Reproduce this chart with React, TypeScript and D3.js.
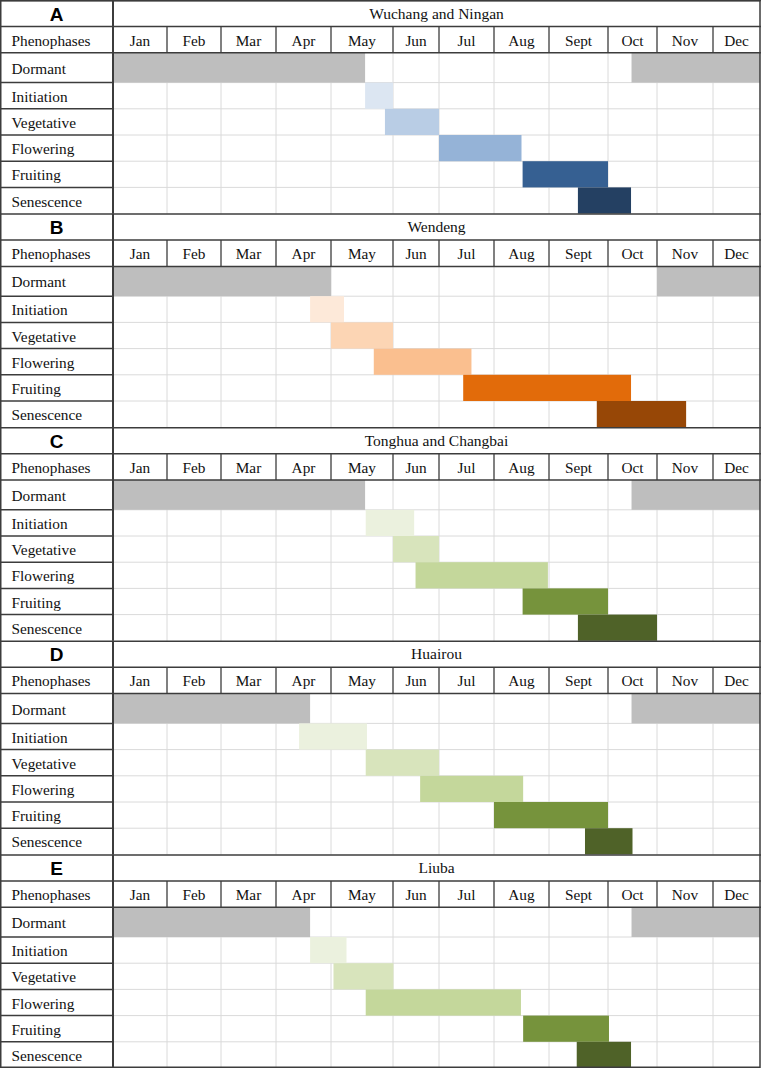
import React from "react";
import * as d3 from "d3";

// months on the x axis; bar positions are in month units (0 = 1 Jan, 12 = 31 Dec)
const months = ["Jan", "Feb", "Mar", "Apr", "May", "Jun", "Jul", "Aug", "Sept", "Oct", "Nov", "Dec"];
const phenophases = ["Dormant", "Initiation", "Vegetative", "Flowering", "Fruiting", "Senescence"];
const panelLetters = ["A", "B", "C", "D", "E"];
const siteNames = ["Wuchang and Ningan", "Wendeng", "Tonghua and Changbai", "Huairou", "Liuba"];

// one list of [start, end] periods per phenophase
const periodsWuchang = [
  [[0, 4.55], [9.48, 12]],
  [[4.55, 5.0]],
  [[4.87, 6.0]],
  [[6.0, 7.5]],
  [[7.52, 9.0]],
  [[8.49, 9.47]],
];
const periodsWendeng = [
  [[0, 4.0], [10.0, 12]],
  [[3.62, 4.21]],
  [[4.0, 5.0]],
  [[4.69, 6.59]],
  [[6.44, 9.47]],
  [[8.81, 10.52]],
];
const periodsTonghua = [
  [[0, 4.55], [9.48, 12]],
  [[4.56, 5.46]],
  [[5.0, 6.0]],
  [[5.49, 7.98]],
  [[7.52, 9.0]],
  [[8.49, 10.0]],
];
const periodsHuairou = [
  [[0, 3.62], [9.48, 12]],
  [[3.42, 4.58]],
  [[4.56, 6.0]],
  [[5.59, 7.53]],
  [[7.0, 9.0]],
  [[8.61, 9.5]],
];
const periodsLiuba = [
  [[0, 3.62], [9.48, 12]],
  [[3.62, 4.25]],
  [[4.04, 5.01]],
  [[4.56, 7.49]],
  [[7.53, 9.02]],
  [[8.47, 9.47]],
];
const panelPeriods = [periodsWuchang, periodsWendeng, periodsTonghua, periodsHuairou, periodsLiuba];

const dormantColor = "#bebebe";
const bluePalette = ["#dce6f2", "#b9cde5", "#95b3d7", "#366092", "#244062"];
const orangePalette = ["#fde9d9", "#fcd5b4", "#fabf8f", "#e26b0a", "#974706"];
const greenPalette = ["#ebf1de", "#d8e4bc", "#c4d79b", "#76933c", "#4f6228"];
const panelPalettes = [bluePalette, orangePalette, greenPalette, greenPalette, greenPalette];

const W = 761;
const H = 1068;
const labelRight = 113;
// table column edges (label column | Jan ... Dec), as laid out in the source table
const columnEdges = [113, 167, 221, 276, 331, 393, 439, 494, 549, 608, 657, 713, 760];
// row edges within a panel: title, header, Dormant, Initiation ... Senescence
const rowEdges = [0, 26.5, 52.8, 82.6, 108.8, 135, 161.2, 187.4, 213.6];
const panelHeight = H / panelLetters.length;

const dark = "#3c3c3c";
const grid = "#dadada";
const serif = "'Liberation Serif', 'Times New Roman', serif";

export default function App() {
  const x = d3.scaleLinear().domain(d3.range(13)).range(columnEdges);
  const rowY = d3.scaleLinear().domain(d3.range(rowEdges.length)).range(rowEdges);
  const panelY = d3.scaleLinear().domain([0, panelLetters.length]).range([0, H]);
  const right = x(12);

  return (
    <div>
      <style>{`body{margin:0}`}</style>
      <svg width={W} height={H} style={{ display: "block", background: "#fff" }}>
        <rect width={W} height={H} fill="#fff" />
        {panelLetters.map((letter, p) => {
          const top = panelY(p);
          const palette = panelPalettes[p];
          const bodyTop = top + rowY(2);
          const bottom = top + rowY(8);
          return (
            <g key={letter}>
              {/* light gridlines */}
              {d3.range(1, 12).map((m) => (
                <line key={"gv" + m} x1={x(m)} x2={x(m)} y1={bodyTop} y2={bottom} stroke={grid} strokeWidth={1} />
              ))}
              {d3.range(3, 8).map((r) => (
                <line key={"gh" + r} x1={labelRight} x2={right} y1={top + rowY(r)} y2={top + rowY(r)} stroke={grid} strokeWidth={1} />
              ))}

              {/* bars */}
              {panelPeriods[p].map((periods, i) =>
                periods.map(([s, e], k) => (
                  <rect
                    key={`b${i}-${k}`}
                    x={x(s)}
                    width={x(e) - x(s)}
                    y={top + rowY(i + 2)}
                    height={rowY(i + 3) - rowY(i + 2)}
                    fill={i === 0 ? dormantColor : palette[i - 1]}
                  />
                ))
              )}

              {/* dark table lines */}
              <line x1={0} x2={W} y1={top + 0.5} y2={top + 0.5} stroke={dark} strokeWidth={1.5} />
              <line x1={0} x2={W} y1={top + rowY(1)} y2={top + rowY(1)} stroke={dark} strokeWidth={1.5} />
              <line x1={0} x2={W} y1={top + rowY(2)} y2={top + rowY(2)} stroke={dark} strokeWidth={1.5} />
              {d3.range(1, 12).map((m) => (
                <line key={"hv" + m} x1={x(m)} x2={x(m)} y1={top + rowY(1)} y2={top + rowY(2)} stroke={dark} strokeWidth={1.3} />
              ))}
              {d3.range(3, 8).map((r) => (
                <line key={"lh" + r} x1={0} x2={labelRight} y1={top + rowY(r)} y2={top + rowY(r)} stroke={dark} strokeWidth={1.5} />
              ))}
              <line x1={labelRight} x2={labelRight} y1={top} y2={bottom} stroke={dark} strokeWidth={2} />

              {/* texts */}
              <text
                x={labelRight / 2}
                y={top + rowY(0) + 20.5}
                textAnchor="middle"
                fontFamily="'Liberation Sans', Arial, sans-serif"
                fontWeight="bold"
                fontSize={19}
                fill="#000"
              >
                {letter}
              </text>
              <text x={(labelRight + right) / 2} y={top + 18.5} textAnchor="middle" fontFamily={serif} fontSize={15.5} fill="#111">
                {siteNames[p]}
              </text>
              <text x={11.5} y={top + (rowY(1) + rowY(2)) / 2 + 6} fontFamily={serif} fontSize={15.3} fill="#111">
                Phenophases
              </text>
              {months.map((mo, m) => (
                <text
                  key={mo}
                  x={(x(m) + x(m + 1)) / 2}
                  y={top + (rowY(1) + rowY(2)) / 2 + 6}
                  textAnchor="middle"
                  fontFamily={serif}
                  fontSize={15.3}
                  fill="#111"
                >
                  {mo}
                </text>
              ))}
              {phenophases.map((ph, i) => (
                <text
                  key={ph}
                  x={11.5}
                  y={top + (rowY(i + 2) + rowY(i + 3)) / 2 + 6}
                  fontFamily={serif}
                  fontSize={15.3}
                  fill="#111"
                >
                  {ph}
                </text>
              ))}
            </g>
          );
        })}
        {/* outer frame */}
        <rect x={0.75} y={0.75} width={right - 0.75} height={H - 1.5} fill="none" stroke={dark} strokeWidth={1.5} />
      </svg>
    </div>
  );
}
